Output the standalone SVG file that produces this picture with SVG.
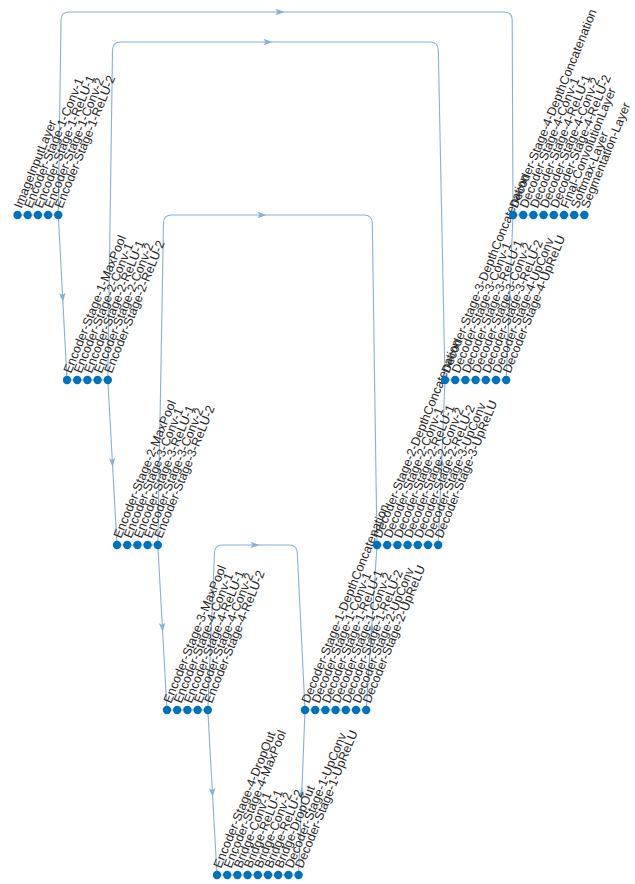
<svg xmlns="http://www.w3.org/2000/svg" xmlns:xlink="http://www.w3.org/1999/xlink" width="635" height="884" viewBox="0 0 635 884">
<style>
.e{fill:none;stroke:#86b0d6;stroke-width:1.1}
.a{fill:#86b0d6}
.d{fill:#0072BD}
.t{font-family:"Liberation Sans",Arial,Helvetica,sans-serif;font-size:12.5px;fill:#262626}
</style>
<defs>
<path id="arr" d="M-4.5,-3.2 L4.5,0 L-4.5,3.2 L-2.5,0 Z"/>
</defs>
<rect width="635" height="884" fill="#ffffff"/>
<g id="connectors">
<path class="e" d="M58.3,215 L61,20 Q61.2,12 69,12 L504,12 Q512,12 512.2,20 L513,215"/>
<path class="e" d="M107.8,380 L112.5,50 Q112.7,42 120.5,42 L430,42 Q438,42 438.3,50 L445,380"/>
<path class="e" d="M157.8,545 L163.5,223 Q163.7,215 171.5,215 L364,215 Q372,215 372.3,223 L377,545"/>
<path class="e" d="M207.8,710 L214.5,553 Q214.7,545 222.5,545 L289,545 Q297,545 297.3,553 L305,710"/>
<path class="e" d="M58.3,215 L67,380"/>
<path class="e" d="M107.8,380 L117,545"/>
<path class="e" d="M157.8,545 L167,710"/>
<path class="e" d="M207.8,710 L217,875"/>
<path class="e" d="M298.6,875 L305,710"/>
<path class="e" d="M366.2,710 L377,545"/>
<path class="e" d="M438.2,545 L445,380"/>
<path class="e" d="M506.2,380 L513,215"/>
<path class="e" d="M17.5,215 H58.3 M67,380 H107.8 M117,545 H157.8 M167,710 H207.8 M217,875 H298.6 M305,710 H366.2 M377,545 H438.2 M445,380 H506.2 M513,215 H584.4"/>
<use xlink:href="#arr" class="a" transform="translate(280,12)"/>
<use xlink:href="#arr" class="a" transform="translate(268,42)"/>
<use xlink:href="#arr" class="a" transform="translate(262,215)"/>
<use xlink:href="#arr" class="a" transform="translate(255,545)"/>
<use xlink:href="#arr" class="a" transform="translate(62.6,297.5) rotate(87)"/>
<use xlink:href="#arr" class="a" transform="translate(112.4,462.5) rotate(86.8)"/>
<use xlink:href="#arr" class="a" transform="translate(162.4,627.5) rotate(86.8)"/>
<use xlink:href="#arr" class="a" transform="translate(212.4,792.5) rotate(86.8)"/>
<use xlink:href="#arr" class="a" transform="translate(301.8,792.5) rotate(-87.8)"/>
<use xlink:href="#arr" class="a" transform="translate(371.6,627.5) rotate(-86.3)"/>
<use xlink:href="#arr" class="a" transform="translate(441.6,462.5) rotate(-87.6)"/>
<use xlink:href="#arr" class="a" transform="translate(509.6,297.5) rotate(-87.6)"/>
</g>
<g id="nodes">
<g id="n01"><circle class="d" cx="17.5" cy="215" r="4.2"/><text class="t" transform="translate(21.5,209) rotate(-68)">ImageInputLayer</text></g>
<g id="n02"><circle class="d" cx="27.7" cy="215" r="4.2"/><text class="t" transform="translate(31.7,209) rotate(-68)">Encoder-Stage-1-Conv-1</text></g>
<g id="n03"><circle class="d" cx="37.9" cy="215" r="4.2"/><text class="t" transform="translate(41.9,209) rotate(-68)">Encoder-Stage-1-ReLU-1</text></g>
<g id="n04"><circle class="d" cx="48.1" cy="215" r="4.2"/><text class="t" transform="translate(52.1,209) rotate(-68)">Encoder-Stage-1-Conv-2</text></g>
<g id="n05"><circle class="d" cx="58.3" cy="215" r="4.2"/><text class="t" transform="translate(62.3,209) rotate(-68)">Encoder-Stage-1-ReLU-2</text></g>

<g id="n06"><circle class="d" cx="67" cy="380" r="4.2"/><text class="t" transform="translate(71,374) rotate(-68)">Encoder-Stage-1-MaxPool</text></g>
<g id="n07"><circle class="d" cx="77.2" cy="380" r="4.2"/><text class="t" transform="translate(81.2,374) rotate(-68)">Encoder-Stage-2-Conv-1</text></g>
<g id="n08"><circle class="d" cx="87.4" cy="380" r="4.2"/><text class="t" transform="translate(91.4,374) rotate(-68)">Encoder-Stage-2-ReLU-1</text></g>
<g id="n09"><circle class="d" cx="97.6" cy="380" r="4.2"/><text class="t" transform="translate(101.6,374) rotate(-68)">Encoder-Stage-2-Conv-2</text></g>
<g id="n10"><circle class="d" cx="107.8" cy="380" r="4.2"/><text class="t" transform="translate(111.8,374) rotate(-68)">Encoder-Stage-2-ReLU-2</text></g>

<g id="n11"><circle class="d" cx="117" cy="545" r="4.2"/><text class="t" transform="translate(121,539) rotate(-68)">Encoder-Stage-2-MaxPool</text></g>
<g id="n12"><circle class="d" cx="127.2" cy="545" r="4.2"/><text class="t" transform="translate(131.2,539) rotate(-68)">Encoder-Stage-3-Conv-1</text></g>
<g id="n13"><circle class="d" cx="137.4" cy="545" r="4.2"/><text class="t" transform="translate(141.4,539) rotate(-68)">Encoder-Stage-3-ReLU-1</text></g>
<g id="n14"><circle class="d" cx="147.6" cy="545" r="4.2"/><text class="t" transform="translate(151.6,539) rotate(-68)">Encoder-Stage-3-Conv-2</text></g>
<g id="n15"><circle class="d" cx="157.8" cy="545" r="4.2"/><text class="t" transform="translate(161.8,539) rotate(-68)">Encoder-Stage-3-ReLU-2</text></g>

<g id="n16"><circle class="d" cx="167" cy="710" r="4.2"/><text class="t" transform="translate(171,704) rotate(-68)">Encoder-Stage-3-MaxPool</text></g>
<g id="n17"><circle class="d" cx="177.2" cy="710" r="4.2"/><text class="t" transform="translate(181.2,704) rotate(-68)">Encoder-Stage-4-Conv-1</text></g>
<g id="n18"><circle class="d" cx="187.4" cy="710" r="4.2"/><text class="t" transform="translate(191.4,704) rotate(-68)">Encoder-Stage-4-ReLU-1</text></g>
<g id="n19"><circle class="d" cx="197.6" cy="710" r="4.2"/><text class="t" transform="translate(201.6,704) rotate(-68)">Encoder-Stage-4-Conv-2</text></g>
<g id="n20"><circle class="d" cx="207.8" cy="710" r="4.2"/><text class="t" transform="translate(211.8,704) rotate(-68)">Encoder-Stage-4-ReLU-2</text></g>

<g id="n21"><circle class="d" cx="217" cy="875" r="4.2"/><text class="t" transform="translate(221,869) rotate(-68)">Encoder-Stage-4-DropOut</text></g>
<g id="n22"><circle class="d" cx="227.2" cy="875" r="4.2"/><text class="t" transform="translate(231.2,869) rotate(-68)">Encoder-Stage-4-MaxPool</text></g>
<g id="n23"><circle class="d" cx="237.4" cy="875" r="4.2"/><text class="t" transform="translate(241.4,869) rotate(-68)">Bridge-Conv-1</text></g>
<g id="n24"><circle class="d" cx="247.6" cy="875" r="4.2"/><text class="t" transform="translate(251.6,869) rotate(-68)">Bridge-ReLU-1</text></g>
<g id="n25"><circle class="d" cx="257.8" cy="875" r="4.2"/><text class="t" transform="translate(261.8,869) rotate(-68)">Bridge-Conv-2</text></g>
<g id="n26"><circle class="d" cx="268" cy="875" r="4.2"/><text class="t" transform="translate(272,869) rotate(-68)">Bridge-ReLU-2</text></g>
<g id="n27"><circle class="d" cx="278.2" cy="875" r="4.2"/><text class="t" transform="translate(282.2,869) rotate(-68)">Bridge-DropOut</text></g>
<g id="n28"><circle class="d" cx="288.4" cy="875" r="4.2"/><text class="t" transform="translate(292.4,869) rotate(-68)">Decoder-Stage-1-UpConv</text></g>
<g id="n29"><circle class="d" cx="298.6" cy="875" r="4.2"/><text class="t" transform="translate(302.6,869) rotate(-68)">Decoder-Stage-1-UpReLU</text></g>

<g id="n30"><circle class="d" cx="305" cy="710" r="4.2"/><text class="t" transform="translate(309,704) rotate(-68)">Decoder-Stage-1-DepthConcatenation</text></g>
<g id="n31"><circle class="d" cx="315.2" cy="710" r="4.2"/><text class="t" transform="translate(319.2,704) rotate(-68)">Decoder-Stage-1-Conv-1</text></g>
<g id="n32"><circle class="d" cx="325.4" cy="710" r="4.2"/><text class="t" transform="translate(329.4,704) rotate(-68)">Decoder-Stage-1-ReLU-1</text></g>
<g id="n33"><circle class="d" cx="335.6" cy="710" r="4.2"/><text class="t" transform="translate(339.6,704) rotate(-68)">Decoder-Stage-1-Conv-2</text></g>
<g id="n34"><circle class="d" cx="345.8" cy="710" r="4.2"/><text class="t" transform="translate(349.8,704) rotate(-68)">Decoder-Stage-1-ReLU-2</text></g>
<g id="n35"><circle class="d" cx="356" cy="710" r="4.2"/><text class="t" transform="translate(360,704) rotate(-68)">Decoder-Stage-2-UpConv</text></g>
<g id="n36"><circle class="d" cx="366.2" cy="710" r="4.2"/><text class="t" transform="translate(370.2,704) rotate(-68)">Decoder-Stage-2-UpReLU</text></g>

<g id="n37"><circle class="d" cx="377" cy="545" r="4.2"/><text class="t" transform="translate(381,539) rotate(-68)">Decoder-Stage-2-DepthConcatenation</text></g>
<g id="n38"><circle class="d" cx="387.2" cy="545" r="4.2"/><text class="t" transform="translate(391.2,539) rotate(-68)">Decoder-Stage-2-Conv-1</text></g>
<g id="n39"><circle class="d" cx="397.4" cy="545" r="4.2"/><text class="t" transform="translate(401.4,539) rotate(-68)">Decoder-Stage-2-ReLU-1</text></g>
<g id="n40"><circle class="d" cx="407.6" cy="545" r="4.2"/><text class="t" transform="translate(411.6,539) rotate(-68)">Decoder-Stage-2-Conv-2</text></g>
<g id="n41"><circle class="d" cx="417.8" cy="545" r="4.2"/><text class="t" transform="translate(421.8,539) rotate(-68)">Decoder-Stage-2-ReLU-2</text></g>
<g id="n42"><circle class="d" cx="428" cy="545" r="4.2"/><text class="t" transform="translate(432,539) rotate(-68)">Decoder-Stage-3-UpConv</text></g>
<g id="n43"><circle class="d" cx="438.2" cy="545" r="4.2"/><text class="t" transform="translate(442.2,539) rotate(-68)">Decoder-Stage-3-UpReLU</text></g>

<g id="n44"><circle class="d" cx="445" cy="380" r="4.2"/><text class="t" transform="translate(449,374) rotate(-68)">Decoder-Stage-3-DepthConcatenation</text></g>
<g id="n45"><circle class="d" cx="455.2" cy="380" r="4.2"/><text class="t" transform="translate(459.2,374) rotate(-68)">Decoder-Stage-3-Conv-1</text></g>
<g id="n46"><circle class="d" cx="465.4" cy="380" r="4.2"/><text class="t" transform="translate(469.4,374) rotate(-68)">Decoder-Stage-3-ReLU-1</text></g>
<g id="n47"><circle class="d" cx="475.6" cy="380" r="4.2"/><text class="t" transform="translate(479.6,374) rotate(-68)">Decoder-Stage-3-Conv-2</text></g>
<g id="n48"><circle class="d" cx="485.8" cy="380" r="4.2"/><text class="t" transform="translate(489.8,374) rotate(-68)">Decoder-Stage-3-ReLU-2</text></g>
<g id="n49"><circle class="d" cx="496" cy="380" r="4.2"/><text class="t" transform="translate(500,374) rotate(-68)">Decoder-Stage-4-UpConv</text></g>
<g id="n50"><circle class="d" cx="506.2" cy="380" r="4.2"/><text class="t" transform="translate(510.2,374) rotate(-68)">Decoder-Stage-4-UpReLU</text></g>

<g id="n51"><circle class="d" cx="513" cy="215" r="4.2"/><text class="t" transform="translate(517,209) rotate(-68)">Decoder-Stage-4-DepthConcatenation</text></g>
<g id="n52"><circle class="d" cx="523.2" cy="215" r="4.2"/><text class="t" transform="translate(527.2,209) rotate(-68)">Decoder-Stage-4-Conv-1</text></g>
<g id="n53"><circle class="d" cx="533.4" cy="215" r="4.2"/><text class="t" transform="translate(537.4,209) rotate(-68)">Decoder-Stage-4-ReLU-1</text></g>
<g id="n54"><circle class="d" cx="543.6" cy="215" r="4.2"/><text class="t" transform="translate(547.6,209) rotate(-68)">Decoder-Stage-4-Conv-2</text></g>
<g id="n55"><circle class="d" cx="553.8" cy="215" r="4.2"/><text class="t" transform="translate(557.8,209) rotate(-68)">Decoder-Stage-4-ReLU-2</text></g>
<g id="n56"><circle class="d" cx="564" cy="215" r="4.2"/><text class="t" transform="translate(568,209) rotate(-68)">Final-ConvolutionLayer</text></g>
<g id="n57"><circle class="d" cx="574.2" cy="215" r="4.2"/><text class="t" transform="translate(578.2,209) rotate(-68)">Softmax-Layer</text></g>
<g id="n58"><circle class="d" cx="584.4" cy="215" r="4.2"/><text class="t" transform="translate(588.4,209) rotate(-68)">Segmentation-Layer</text></g>
</g>
</svg>
